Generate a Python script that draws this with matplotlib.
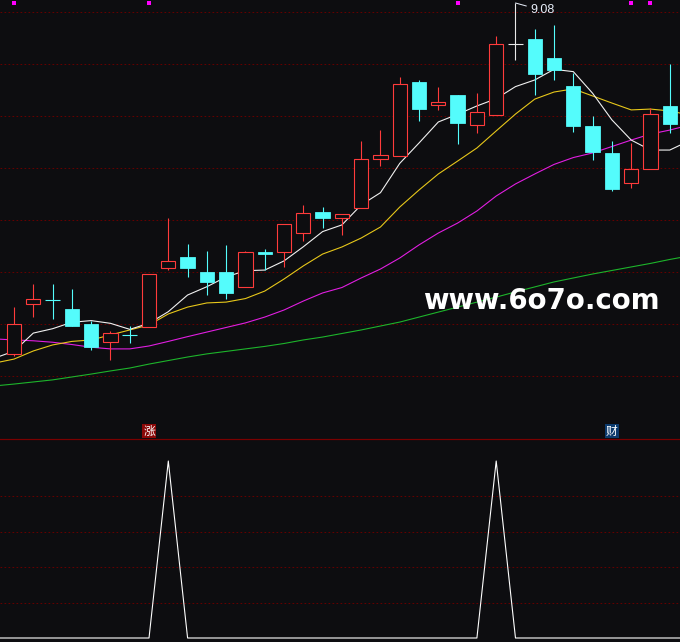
import matplotlib
matplotlib.use('Agg')
import matplotlib.pyplot as plt
import matplotlib.transforms as mtransforms
from matplotlib.patches import Rectangle

# ---------------- data ----------------
opens  = [7.392, 7.635, 7.650, 7.609, 7.537, 7.450, 7.484, 7.522, 7.806, 7.859,
          7.787, 7.787, 7.715, 7.883, 7.883, 7.974, 8.075, 8.044, 8.094, 8.330,
          8.344, 8.700, 8.590, 8.638, 8.492, 8.543, 8.883, 8.907, 8.816, 8.681,
          8.489, 8.360, 8.213, 8.280, 8.585]
highs  = [7.618, 7.729, 7.729, 7.705, 7.551, 7.503, 7.527, 7.777, 8.046, 7.921,
          7.888, 7.916, 7.888, 7.897, 8.017, 8.109, 8.099, 8.066, 8.416, 8.469,
          8.724, 8.710, 8.676, 8.638, 8.649, 8.923, 9.080, 8.955, 8.974, 8.743,
          8.537, 8.416, 8.407, 8.574, 8.787]
lows   = [7.385, 7.570, 7.561, 7.527, 7.412, 7.364, 7.445, 7.522, 7.796, 7.763,
          7.676, 7.657, 7.715, 7.796, 7.811, 7.936, 7.998, 7.965, 8.094, 8.296,
          8.344, 8.513, 8.566, 8.402, 8.456, 8.543, 8.806, 8.638, 8.710, 8.460,
          8.325, 8.176, 8.192, 8.280, 8.456]
closes = [7.537, 7.655, 7.650, 7.527, 7.426, 7.493, 7.484, 7.777, 7.840, 7.806,
          7.739, 7.686, 7.883, 7.873, 8.017, 8.070, 8.046, 8.066, 8.330, 8.349,
          8.691, 8.570, 8.604, 8.503, 8.554, 8.883, 8.883, 8.740, 8.758, 8.489,
          8.364, 8.186, 8.280, 8.545, 8.500]

# moving averages, one value per bar from bar -1 (off-screen left) to bar 35 (off-screen right)
ma_start = -1
ma5  = [7.373, 7.406, 7.493, 7.514, 7.545, 7.553, 7.540, 7.511, 7.540, 7.596,
        7.676, 7.716, 7.763, 7.793, 7.796, 7.840, 7.908, 7.981, 8.013, 8.109,
        8.168, 8.309, 8.407, 8.508, 8.545, 8.585, 8.620, 8.678, 8.710, 8.761,
        8.750, 8.646, 8.518, 8.421, 8.373, 8.373, 8.417]
ma10 = [7.349, 7.368, 7.407, 7.436, 7.453, 7.460, 7.484, 7.508, 7.532, 7.585,
        7.618, 7.638, 7.642, 7.659, 7.695, 7.753, 7.816, 7.873, 7.907, 7.950,
        8.003, 8.099, 8.181, 8.258, 8.320, 8.383, 8.465, 8.546, 8.618, 8.652,
        8.667, 8.633, 8.599, 8.566, 8.570, 8.561, 8.542]
ma20 = [7.465, 7.460, 7.456, 7.449, 7.438, 7.425, 7.417, 7.417, 7.431, 7.453,
        7.476, 7.498, 7.520, 7.542, 7.570, 7.604, 7.647, 7.686, 7.712, 7.758,
        7.801, 7.854, 7.917, 7.974, 8.022, 8.080, 8.152, 8.210, 8.258, 8.304,
        8.337, 8.359, 8.390, 8.421, 8.450, 8.469, 8.493]
ma60 = [7.239, 7.248, 7.258, 7.268, 7.282, 7.296, 7.311, 7.325, 7.344, 7.361,
        7.378, 7.393, 7.405, 7.417, 7.429, 7.443, 7.460, 7.474, 7.491, 7.508,
        7.527, 7.546, 7.570, 7.594, 7.618, 7.642, 7.666, 7.691, 7.715, 7.739,
        7.758, 7.777, 7.794, 7.811, 7.828, 7.847, 7.864]
signal = [0, 0, 0, 0, 0, 0, 0, 0, 0, 1, 0, 0, 0, 0, 0, 0, 0, 0, 0, 0,
          0, 0, 0, 0, 0, 0, 1, 0, 0, 0, 0, 0, 0, 0, 0, 0, 0]

price_grid  = [9.035, 8.785, 8.535, 8.285, 8.035, 7.785, 7.535, 7.285]
signal_grid = [0.2, 0.4, 0.6, 0.8]
marker_bars = [0, 7, 23, 32, 33]
zhang_bar, zhang_text = 7, "涨"
cai_bar, cai_text = 31, "财"
high_bar, high_text = 26, "9.08"
watermark = "www.6o7o.com"

# ---------------- style ----------------
BG = '#0d0d10'
RED = '#ff3b3b'
CYAN = '#54fcfc'
GRID = '#640000'
PX = 72.0 / 100.0   # one pixel in points

plt.rcParams['font.family'] = ['DejaVu Sans', 'Noto Sans CJK SC']

fig = plt.figure(figsize=(6.8, 6.42), dpi=100, facecolor=BG)
H = 642.0
ax = fig.add_axes([0, 203 / H, 1, 439 / H], facecolor=BG)
ax2 = fig.add_axes([0, 0, 1, 203 / H], facecolor=BG)

xmin, xmax = -0.726, 34.53
ax.set_xlim(xmin, xmax)
ax.set_ylim(6.9838, 9.0944)
ax2.set_xlim(xmin, xmax)
ax2.set_ylim(-0.0226, 1.1243)

for a in (ax, ax2):
    a.set_xticks([])
    a.set_yticks([])
    for s in a.spines.values():
        s.set_visible(False)
ax2.spines['top'].set_visible(True)
ax2.spines['top'].set_color('#7a0000')
ax2.spines['top'].set_linewidth(PX * 1.2)

for g in price_grid:
    ax.axhline(g, color=GRID, lw=PX, ls=(0, (1.7, 2.3)), zorder=1)
for g in signal_grid:
    ax2.axhline(g, color=GRID, lw=PX, ls=(0, (1.7, 2.3)), zorder=1)

# ---------------- moving averages ----------------
mx = list(range(ma_start, ma_start + len(ma5)))
ax.plot(mx, ma60, color='#1db52b', lw=PX * 1.1, zorder=2)
ax.plot(mx, ma20, color='#e21ee2', lw=PX * 1.1, zorder=2)
ax.plot(mx, ma10, color='#e8c81a', lw=PX * 1.1, zorder=2)
ax.plot(mx, ma5, color='#f2f2f2', lw=PX * 1.1, zorder=2)

# ---------------- candles ----------------
bw = 0.74
for i, (o, h, l, c) in enumerate(zip(opens, highs, lows, closes)):
    prev = closes[i - 1] if i > 0 else c
    if c > o:
        ax.vlines(i, c, h, color=RED, lw=PX * 1.1, zorder=3)
        ax.vlines(i, l, o, color=RED, lw=PX * 1.1, zorder=3)
        ax.add_patch(Rectangle((i - bw / 2, o), bw, c - o, facecolor=BG,
                               edgecolor=RED, lw=PX * 1.1, zorder=4))
    elif c < o:
        ax.vlines(i, l, h, color=CYAN, lw=PX * 1.1, zorder=3)
        ax.add_patch(Rectangle((i - bw / 2, c), bw, o - c, facecolor=CYAN,
                               edgecolor=CYAN, lw=PX * 0.8, zorder=4))
    else:
        col = '#e8e8e8' if c == prev else (CYAN if c < prev else RED)
        ax.vlines(i, l, h, color=col, lw=PX * 1.1, zorder=3)
        ax.hlines(c, i - bw / 2 - 0.03, i + bw / 2 + 0.03, color=col,
                  lw=PX * 1.1, zorder=4)

# top markers
trans_top = mtransforms.blended_transform_factory(ax.transData, ax.transAxes)
ax.scatter(marker_bars, [1 - 2.5 / 439] * len(marker_bars), marker='s',
           s=(3.5 * PX) ** 2, color='#ff00ff', transform=trans_top, zorder=6,
           linewidths=0)

# high label
ax.annotate(high_text, xy=(high_bar, highs[high_bar]), xytext=(15, -7.5),
            textcoords='offset pixels', ha='left', va='center',
            color='#e6ecf8', fontsize=9, family='Liberation Sans',
            arrowprops=dict(arrowstyle='-', color='#e6ecf8', lw=PX,
                            shrinkA=1, shrinkB=0), zorder=7)

# signal labels
ly = 1 - 431 / 439
ax.text(zhang_bar, ly, zhang_text, transform=trans_top, ha='center', va='center',
        color='white', fontsize=8.5, family=['Noto Sans CJK SC', 'DejaVu Sans'],
        bbox=dict(boxstyle='square,pad=0.08', fc='#8a0808', ec='none'), zorder=7)
ax.text(cai_bar, ly, cai_text, transform=trans_top, ha='center', va='center',
        color='white', fontsize=8.5, family=['Noto Sans CJK SC', 'DejaVu Sans'],
        bbox=dict(boxstyle='square,pad=0.08', fc='#0c3a6c', ec='none'), zorder=7)

# watermark, fitted to its width in the picture
wm = fig.text(423 / 680, 1 - 301 / H, watermark, ha='left', va='center',
              color='white', fontsize=20, fontweight='bold', zorder=10)
fig.canvas.draw()
w = wm.get_window_extent().width
wm.set_fontsize(20 * 237.0 / w)

# ---------------- lower panel ----------------
ax2.plot(mx, signal, color='white', lw=PX * 1.1, zorder=3)

fig.savefig('out.png', dpi=100, facecolor=BG)
